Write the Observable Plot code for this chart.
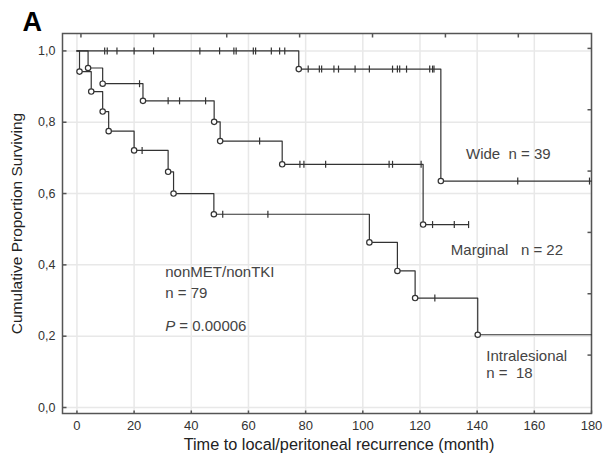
<!DOCTYPE html>
<html><head><meta charset="utf-8">
<script src="https://cdn.jsdelivr.net/npm/d3@7"></script>
<script src="https://cdn.jsdelivr.net/npm/@observablehq/plot@0.6"></script>
<style>body{margin:0;background:#fff} #chart{width:603px;height:463px}</style>
</head><body><div id="chart"></div>
<script>
// ---- axes ----
const xTicks = [0, 20, 40, 60, 80, 100, 120, 140, 160, 180];
const yTicks = [0, 0.2, 0.4, 0.6, 0.8, 1.0];
const topMinorTicks = [1.4, 26.9, 52.4, 77.9, 103.4, 128.9, 154.4];
const rightMinorTicks = [1.007, 0.835, 0.663, 0.491, 0.319, 0.147];
const xLabel = "Time to local/peritoneal recurrence (month)";
const yLabel = "Cumulative Proportion Surviving";
const panelLetter = "A";

// ---- Wide ----
const wideEventTimes = [77.6, 127.3];
const wideSurvival = [0.949, 0.635];
const wideCensorTimes = [9.7, 10.6, 14.0, 20.0, 26.8, 43.0, 49.9, 54.9, 55.7, 61.7, 62.5, 68.0, 70.9, 72.7,
  80.9, 84.8, 85.6, 89.9, 91.5, 97.3, 102.3, 110.4, 112.1, 112.9, 115.3, 123.4, 124.4, 124.9,
  154.2, 179.3];
const wideEnd = 180;

// ---- Marginal ----
const marginalEventTimes = [3.9, 9.0, 23.1, 48.0, 50.1, 71.8, 121.1];
const marginalSurvival = [0.952, 0.908, 0.860, 0.801, 0.747, 0.682, 0.513];
const marginalCensorTimes = [21.9, 31.9, 35.9, 45.0, 63.9, 78.0, 79.4, 87.0, 109.2, 110.4, 120.4, 124.4, 132.0, 137.0];
const marginalEnd = 137.0;

// ---- Intralesional ----
const intraEventTimes = [0.9, 5.0, 9.0, 11.1, 20.0, 31.9, 33.8, 47.9, 102.3, 112.1, 118.3, 140.2];
const intraSurvival = [0.942, 0.886, 0.830, 0.775, 0.721, 0.661, 0.600, 0.542, 0.463, 0.383, 0.307, 0.204];
const intraCensorTimes = [22.8, 51.0, 66.8, 125.2];
const intraEnd = 180;

// ---- annotations ----
const annoText = ["Wide  n = 39", "Marginal   n = 22", "nonMET/nonTKI", "n = 79", "Intralesional", "n =  18"];
const annoX = [136.1, 130.8, 30.9, 30.9, 143.2, 143.2];
const annoY = [0.711, 0.441, 0.380, 0.321, 0.145, 0.095];
const pValueText = "= 0.00006";
const pPos = {x: 30.9, y: 0.228};

// ---- build tables ----
function stepAt(times, surv, t) { let s = 1; times.forEach((ti, i) => { if (ti <= t) s = surv[i]; }); return s; }
function group(name, times, surv, censors, end) {
  const pts = [{g: name, t: 0, s: 1}, ...times.map((t, i) => ({g: name, t, s: surv[i]}))];
  pts.push({g: name, t: end, s: surv[surv.length - 1]});
  const ev = times.map((t, i) => ({g: name, t, s: surv[i]}));
  const ce = censors.map(t => ({g: name, t, s: stepAt(times, surv, t)}));
  return {pts, ev, ce};
}
const groups = [
  group("Wide", wideEventTimes, wideSurvival, wideCensorTimes, wideEnd),
  group("Marginal", marginalEventTimes, marginalSurvival, marginalCensorTimes, marginalEnd),
  group("Intralesional", intraEventTimes, intraSurvival, intraCensorTimes, intraEnd)
];
const linePts = groups.flatMap(d => d.pts);
const eventPts = groups.flatMap(d => d.ev);
const censorPts = groups.flatMap(d => d.ce);
const annotations = annoText.map((text, i) => ({text, x: annoX[i], y: annoY[i]}));

// ---- custom tick symbols ----
const sym = (x1, y1, x2, y2) => ({draw(ctx) { ctx.moveTo(x1, y1); ctx.lineTo(x2, y2); }});
const censorMark = sym(0, -3.5, 0, 3.5);
const tickIn = {left: sym(0, 0, 4, 0), right: sym(0, 0, -4, 0), top: sym(0, 0, 0, 4), bottom: sym(0, 0, 0, -3)};

const ink = "#333";
const font = "'Liberation Sans', Arial, sans-serif";

const chart = Plot.plot({
  width: 603, height: 463,
  marginLeft: 62, marginRight: 12, marginTop: 33, marginBottom: 50,
  style: {fontFamily: font, color: "#333", background: "#fff"},
  x: {domain: [-5.05, 180]},
  y: {domain: [-0.0168, 1.0488]},
  marks: [
    Plot.ruleX(xTicks, {stroke: "#e8e8e8", strokeWidth: 1.5}),
    Plot.ruleY(yTicks, {stroke: "#e8e8e8", strokeWidth: 1.5}),
    Plot.frame({stroke: "#555", strokeWidth: 1.5}),
    Plot.axisX({ticks: xTicks, tickSize: 0, tickPadding: 7, label: null, fontSize: 13}),
    Plot.axisY({ticks: yTicks, tickSize: 0, tickPadding: 7, label: null, fontSize: 12.5,
      tickFormat: d => d.toFixed(1).replace(".", ",")}),
    Plot.dot(yTicks, {y: d => d, frameAnchor: "left", symbol: tickIn.left, stroke: "#555", fill: "none"}),
    Plot.dot(xTicks, {x: d => d, frameAnchor: "bottom", symbol: tickIn.bottom, stroke: "#555", fill: "none"}),
    Plot.dot(topMinorTicks, {x: d => d, frameAnchor: "top", symbol: tickIn.top, stroke: "#555", fill: "none"}),
    Plot.dot(rightMinorTicks, {y: d => d, frameAnchor: "right", symbol: tickIn.right, stroke: "#555", fill: "none"}),
    Plot.line(linePts, {x: "t", y: "s", z: "g", curve: "step-after", stroke: ink, strokeWidth: 1.2}),
    Plot.dot(censorPts, {x: "t", y: "s", symbol: censorMark, stroke: ink, fill: "none", strokeWidth: 1.2}),
    Plot.dot(eventPts, {x: "t", y: "s", r: 2.7, stroke: ink, fill: "white", strokeWidth: 1.2}),
    Plot.text(annotations, {x: "x", y: "y", text: "text", textAnchor: "start", fontSize: 15, fill: "#444"}),
    Plot.text([pPos], {x: "x", y: "y", text: () => "P", textAnchor: "start", fontSize: 15, fontStyle: "italic", fill: "#444"}),
    Plot.text([pPos], {x: "x", y: "y", text: () => pValueText, textAnchor: "start", dx: 14, fontSize: 15, fill: "#444"}),
    Plot.text([xLabel], {frameAnchor: "bottom", textAnchor: "middle", dx: 12, dy: 36, fontSize: 16.3, fill: "#222"}),
    Plot.text([yLabel], {frameAnchor: "left", textAnchor: "middle", dx: -45, rotate: -90, fontSize: 15.5, fill: "#222"}),
    Plot.text([panelLetter], {frameAnchor: "top-left", dx: -40, dy: -3, textAnchor: "start", lineAnchor: "bottom",
      fontSize: 27, fontWeight: "bold", fill: "#000"})
  ]
});
document.getElementById("chart").appendChild(chart);
</script>
</body></html>
